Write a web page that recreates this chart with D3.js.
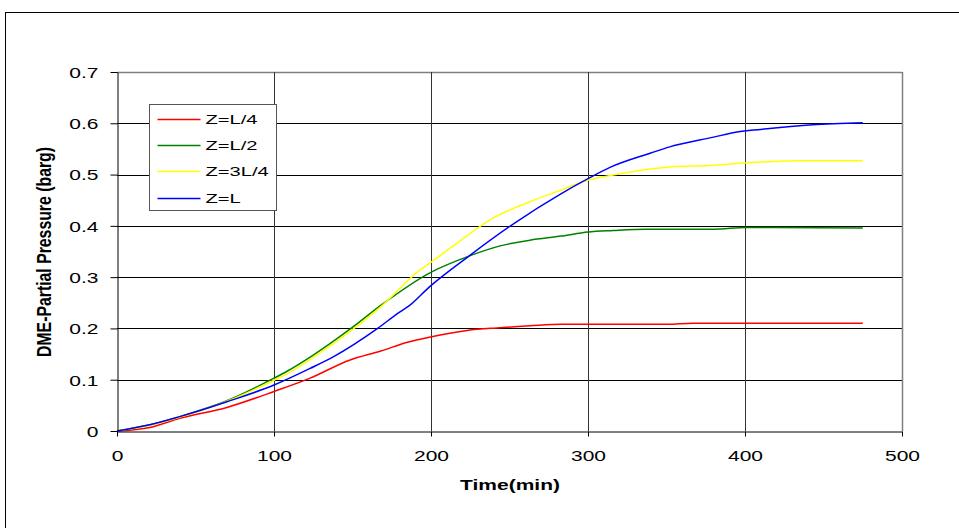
<!DOCTYPE html>
<html lang="en">
<head>
<meta charset="UTF-8">
<title>DME Partial Pressure</title>
<script src="https://d3js.org/d3.v7.min.js"></script>
<style>
  body { margin: 0; background: #fff; overflow: hidden; }
  svg text { font-family: "Liberation Sans", Arial, sans-serif; fill: #000; }
</style>
</head>
<body>
<script>
// series
const seriesNames = ['Z=L/4', 'Z=L/2', 'Z=3L/4', 'Z=L'];
const seriesColors = ['#ff0000', '#008000', '#ffff00', '#0000ff'];

const timeL4 = [0, 21, 40, 70, 100, 123, 148, 168, 185, 199, 223, 242, 263, 283, 350, 367, 475];
const presL4 = [0, 0.007, 0.025, 0.046, 0.077, 0.103, 0.138, 0.156, 0.173, 0.183, 0.196, 0.201, 0.205, 0.208, 0.208, 0.210, 0.210];

const timeL2 = [0, 21, 40, 70, 100, 108, 125, 149, 168, 199, 225, 244, 263, 283, 300, 316, 337, 380, 401, 475];
const presL2 = [0, 0.012, 0.028, 0.059, 0.103, 0.116, 0.148, 0.200, 0.245, 0.308, 0.342, 0.361, 0.372, 0.380, 0.388, 0.391, 0.3935, 0.3935, 0.397, 0.396];

const time3L4 = [0, 21, 40, 70, 100, 108, 125, 151, 168, 193, 199, 212, 240, 263, 283, 300, 316, 337, 352, 380, 401, 439, 475];
const pres3L4 = [0, 0.011, 0.027, 0.058, 0.099, 0.111, 0.1435, 0.200, 0.242, 0.314, 0.327, 0.356, 0.416, 0.447, 0.470, 0.489, 0.499, 0.510, 0.515, 0.518, 0.523, 0.527, 0.527];

const timeL = [0, 21, 40, 70, 100, 123, 138, 166, 180, 186, 199, 225, 253, 283, 300, 314, 340, 352, 380, 395, 410, 443, 475];
const presL = [0, 0.012, 0.028, 0.057, 0.0896, 0.122, 0.145, 0.200, 0.232, 0.244, 0.281, 0.343, 0.405, 0.463, 0.492, 0.514, 0.542, 0.554, 0.573, 0.583, 0.588, 0.597, 0.601];

const xTicks = [0, 100, 200, 300, 400, 500];
const yTicks = [0, 0.1, 0.2, 0.3, 0.4, 0.5, 0.6, 0.7];
const xTitle = 'Time(min)';
const yTitle = 'DME-Partial Pressure (barg)';

const series = [
  { name: seriesNames[0], color: seriesColors[0], t: timeL4, v: presL4 },
  { name: seriesNames[1], color: seriesColors[1], t: timeL2, v: presL2 },
  { name: seriesNames[2], color: seriesColors[2], t: time3L4, v: pres3L4 },
  { name: seriesNames[3], color: seriesColors[3], t: timeL, v: presL }
];

const w = 959, h = 528;
const stretch = 1.4; // text in the original looks wide

const svg = d3.select('body').append('svg')
  .attr('width', w)
  .attr('height', h);

// outer chart border
svg.append('rect')
  .attr('x', 5.5).attr('y', 12.5)
  .attr('width', 1000).attr('height', 600)
  .attr('fill', '#fff')
  .attr('stroke', '#000')
  .attr('stroke-width', 1);

const xScale = d3.scaleLinear().domain([0, 500]).range([117, 902]);
const yScale = d3.scaleLinear().domain([0, 0.7]).range([431, 72]);

// gridlines
svg.append('g')
  .selectAll('line')
  .data(yTicks.slice(1))
  .enter()
  .append('line')
  .attr('x1', xScale(0)).attr('x2', xScale(500))
  .attr('y1', d => Math.round(yScale(d)) + 0.5)
  .attr('y2', d => Math.round(yScale(d)) + 0.5)
  .attr('stroke', d => d === 0.7 ? '#808080' : '#000')
  .attr('stroke-width', d => d === 0.7 ? 1.5 : 1);

svg.append('g')
  .selectAll('line')
  .data(xTicks.slice(1))
  .enter()
  .append('line')
  .attr('x1', d => Math.round(xScale(d)) + 0.5)
  .attr('x2', d => Math.round(xScale(d)) + 0.5)
  .attr('y1', yScale(0.7)).attr('y2', yScale(0))
  .attr('stroke', d => d === 500 ? '#808080' : '#333')
  .attr('stroke-width', d => d === 500 ? 1.5 : 1);

// lines
const line = d3.line()
  .x(d => xScale(d[0]))
  .y(d => yScale(d[1]))
  .curve(d3.curveMonotoneX);

svg.append('g')
  .selectAll('path')
  .data(series)
  .enter()
  .append('path')
  .attr('d', s => line(s.t.map((t, i) => [t, s.v[i]])))
  .attr('fill', 'none')
  .attr('stroke', s => s.color)
  .attr('stroke-width', 1.5);

// axes
const yAxis = d3.axisLeft(yScale)
  .tickValues(yTicks)
  .tickFormat(d => d === 0 ? '0' : d3.format('.1f')(d))
  .tickSize(7)
  .tickSizeOuter(0);
const gy = svg.append('g')
  .attr('transform', 'translate(' + (Math.round(xScale(0)) + 0.5) + ',0)')
  .call(yAxis);
gy.select('.domain').attr('stroke', '#000');
gy.selectAll('.tick line').attr('stroke', '#000');
gy.selectAll('.tick text')
  .attr('x', 0).attr('dy', '0.36em')
  .attr('font-size', 15)
  .attr('transform', 'translate(-19,0) scale(' + stretch + ',1)');

const xAxis = d3.axisBottom(xScale)
  .tickValues(xTicks)
  .tickFormat(d3.format('d'))
  .tickSize(5)
  .tickSizeOuter(0);
const gx = svg.append('g')
  .attr('transform', 'translate(0,' + (Math.round(yScale(0)) + 0.5) + ')')
  .call(xAxis);
gx.select('.domain').attr('stroke', '#000');
gx.selectAll('.tick line').attr('stroke', '#000');
gx.selectAll('.tick text')
  .attr('y', 0).attr('dy', null)
  .attr('font-size', 15)
  .attr('transform', 'translate(0,29) scale(' + stretch + ',1)');

// axis titles
svg.append('text')
  .attr('transform', 'translate(510,490) scale(' + stretch + ',1)')
  .attr('text-anchor', 'middle')
  .attr('font-size', 15)
  .attr('font-weight', 'bold')
  .text(xTitle);

svg.append('text')
  .attr('transform', 'translate(43.5,252) rotate(-90) scale(1,1.5)')
  .attr('text-anchor', 'middle')
  .attr('dy', '0.35em')
  .attr('font-size', 14)
  .attr('font-weight', 'bold')
  .attr('textLength', 210)
  .attr('lengthAdjust', 'spacingAndGlyphs')
  .text(yTitle);

// legend
const legend = svg.append('g').attr('transform', 'translate(149.5,104.5)');
legend.append('rect')
  .attr('width', 127).attr('height', 106)
  .attr('fill', '#fff')
  .attr('stroke', '#555')
  .attr('stroke-width', 1);

const rows = legend.selectAll('g.row')
  .data(series)
  .enter()
  .append('g')
  .attr('class', 'row')
  .attr('transform', (d, i) => 'translate(0,' + [15, 41, 67, 94][i] + ')');
rows.append('line')
  .attr('x1', 8).attr('x2', 51)
  .attr('stroke', d => d.color)
  .attr('stroke-width', 1.4);
rows.append('text')
  .attr('transform', 'translate(56,0) scale(1.55,1)')
  .attr('dy', '0.36em')
  .attr('font-size', 13)
  .text(d => d.name);
</script>
</body>
</html>
